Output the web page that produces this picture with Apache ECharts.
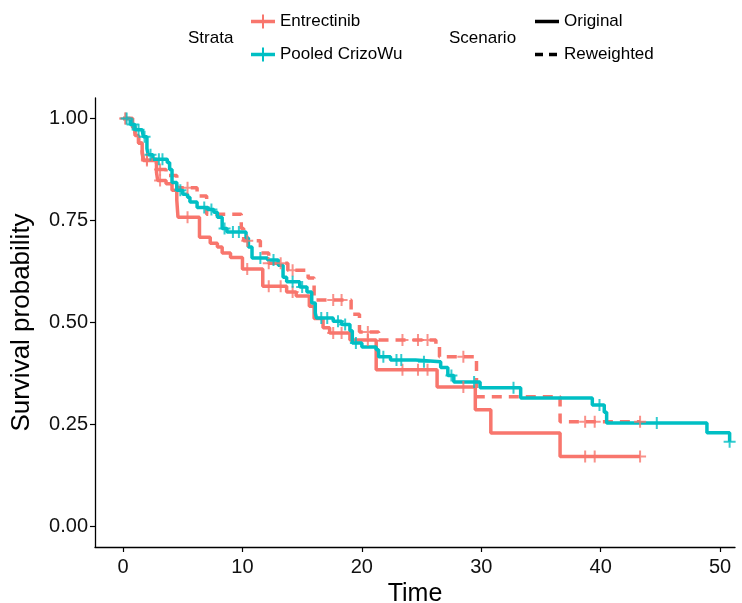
<!DOCTYPE html>
<html>
<head>
<meta charset="utf-8">
<script src="https://cdn.jsdelivr.net/npm/echarts@6/dist/echarts.min.js"></script>
<style>
  html, body { margin: 0; padding: 0; background: #fff; }
  #chart { width: 742px; height: 603px; }
</style>
</head>
<body>
<div id="chart"></div>
<script>
// Kaplan-Meier step estimates: event times and survival after each event
const entTimes = [0, 0.8, 1.0, 1.3, 1.6, 1.7, 2.8, 2.9, 3.6, 4.1, 4.5, 4.6, 6.4, 7.3, 7.9, 8.3, 9.0, 10.0, 11.7, 13.7, 14.5, 15.6, 16.0, 16.75, 17.3, 19.0, 21.2, 26.3, 29.5, 30.8, 36.6];
const entSurv = [1.0, 0.978, 0.958, 0.939, 0.914, 0.897, 0.868, 0.848, 0.840, 0.824, 0.800, 0.758, 0.709, 0.694, 0.685, 0.670, 0.659, 0.631, 0.589, 0.575, 0.565, 0.540, 0.510, 0.487, 0.474, 0.457, 0.384, 0.342, 0.286, 0.229, 0.172];
const entEnd = 43.3;

const entRwTimes = [0, 0.8, 1.0, 1.3, 1.6, 1.7, 2.8, 3.6, 4.5, 6.2, 7.0, 9.9, 10.1, 11.5, 12.2, 13.8, 15.5, 16.0, 19.1, 19.8, 21.4, 26.2, 26.5, 29.6, 36.6];
const entRwSurv = [1.0, 0.98, 0.96, 0.94, 0.92, 0.90, 0.875, 0.86, 0.83, 0.81, 0.765, 0.73, 0.70, 0.67, 0.645, 0.628, 0.609, 0.555, 0.52, 0.477, 0.457, 0.44, 0.416, 0.318, 0.257];
const entRwEnd = 43.3;

const poolTimes = [0, 0.6, 1.0, 1.6, 1.7, 2.0, 2.1, 2.5, 3.7, 3.9, 4.1, 4.5, 5.0, 5.4, 5.6, 6.2, 7.1, 7.6, 7.9, 8.3, 8.7, 10.3, 10.5, 10.8, 12.1, 13.0, 13.4, 13.7, 14.8, 15.4, 15.8, 16.1, 16.2, 17.6, 18.3, 19.0, 19.2, 20.0, 21.2, 21.4, 22.4, 24.5, 26.6, 27.2, 27.7, 29.9, 33.3, 39.3, 40.3, 40.5, 48.9, 50.8];
const poolSurv = [1.0, 0.985, 0.972, 0.968, 0.955, 0.926, 0.911, 0.90, 0.892, 0.875, 0.843, 0.824, 0.814, 0.807, 0.795, 0.782, 0.777, 0.770, 0.758, 0.73, 0.722, 0.707, 0.685, 0.658, 0.653, 0.64, 0.611, 0.60, 0.587, 0.575, 0.548, 0.523, 0.511, 0.503, 0.495, 0.48, 0.45, 0.44, 0.433, 0.416, 0.408, 0.404, 0.39, 0.37, 0.354, 0.34, 0.315, 0.298, 0.28, 0.254, 0.23, 0.208];
const poolEnd = 50.8;

// Censoring times (shared by both Entrectinib scenarios)
const entCensor = [0.2, 2.0, 3.1, 5.4, 10.4, 12.2, 13.2, 14.2, 17.6, 18.3, 20.5, 23.4, 24.7, 25.5, 28.5, 38.7, 39.5, 43.3];
const poolCensor = [0.3, 0.8, 1.3, 1.8, 2.3, 3.0, 3.3, 4.8, 6.8, 7.4, 8.5, 9.2, 9.7, 11.5, 12.6, 14.2, 15.0, 16.6, 17.1, 18.0, 18.6, 19.5, 21.8, 22.9, 23.3, 25.2, 27.5, 29.4, 32.7, 39.9, 44.7, 50.8];

const xTicks = [0, 10, 20, 30, 40, 50];
const yTicks = [0, 0.25, 0.5, 0.75, 1.0];

const RED = '#F8766D';
const TEAL = '#00BFC4';
const FONT = '"Liberation Sans", Arial, Helvetica, sans-serif';

function stepPoints(times, surv, end) {
  const pts = times.map((t, i) => [t, surv[i]]);
  pts.push([end, surv[surv.length - 1]]);
  return pts;
}
function survAt(times, surv, t) {
  let s = surv[0];
  for (let i = 0; i < times.length; i++) { if (times[i] <= t) s = surv[i]; }
  return s;
}
function censorPoints(ct, times, surv) {
  return ct.map(t => [t, survAt(times, surv, t)]);
}

const plusSymbol = 'path://M0,5 L12,5 L12,7 L0,7 Z M5,0 L7,0 L7,12 L5,12 Z';
const keyPlus = 'path://M0,5.2 L24,5.2 L24,8.8 L0,8.8 Z M11,0 L13,0 L13,14 L11,14 Z';
const keySolid = 'path://M0,0 L0.01,0 L0,0.01 Z M0,5.2 L24,5.2 L24,8.8 L0,8.8 Z M24,14 L23.99,14 L24,13.99 Z';
const keyDash = 'path://M0,0 L0.01,0 L0,0.01 Z M0,5.2 L8,5.2 L8,8.8 L0,8.8 Z M14,5.2 L22,5.2 L22,8.8 L14,8.8 Z M24,14 L23.99,14 L24,13.99 Z';

const chart = echarts.init(document.getElementById('chart'), null, { renderer: 'canvas' });

const legendText = { fontFamily: FONT, fontSize: 17, color: '#000' };

chart.setOption({
  animation: false,
  backgroundColor: '#fff',
  grid: { left: 95, right: 7, top: 98, bottom: 56, containLabel: false, outerBoundsMode: 'none' },
  graphic: [
    { type: 'text', left: 188, top: 30, style: { text: 'Strata', font: '17px ' + FONT, fill: '#000' } },
    { type: 'text', left: 449, top: 30, style: { text: 'Scenario', font: '17px ' + FONT, fill: '#000' } }
  ],
  legend: [
    {
      orient: 'vertical', left: 246, top: 8, itemWidth: 24, itemHeight: 14, itemGap: 16,
      textStyle: legendText,
      data: [{ name: 'Entrectinib', icon: keyPlus }, { name: 'Pooled CrizoWu', icon: keyPlus }]
    },
    {
      orient: 'vertical', left: 530, top: 8, itemWidth: 24, itemHeight: 14, itemGap: 16,
      textStyle: legendText,
      data: [{ name: 'Original', icon: keySolid }, { name: 'Reweighted', icon: keyDash }]
    }
  ],
  xAxis: {
    type: 'value', min: -2.35, max: 51.25,
    name: 'Time', nameLocation: 'middle', nameGap: 33,
    nameTextStyle: { fontFamily: FONT, fontSize: 25, color: '#000' },
    axisLine: { onZero: false, lineStyle: { color: '#000', width: 1.3 } },
    axisTick: { show: true, length: 5, lineStyle: { color: '#000', width: 1.2 }, customValues: xTicks },
    axisLabel: { fontFamily: FONT, fontSize: 20, color: '#111', margin: 10, customValues: xTicks },
    splitLine: { show: false }
  },
  yAxis: {
    type: 'value', min: -0.05, max: 1.05,
    name: 'Survival probability', nameLocation: 'middle', nameGap: 60,
    nameTextStyle: { fontFamily: FONT, fontSize: 26, color: '#000' },
    axisLine: { show: true, onZero: false, lineStyle: { color: '#000', width: 1.3 } },
    axisTick: { show: true, length: 5, lineStyle: { color: '#000', width: 1.2 }, customValues: yTicks },
    axisLabel: { fontFamily: FONT, fontSize: 20, color: '#111', margin: 7, customValues: yTicks,
      formatter: v => v.toFixed(2) },
    splitLine: { show: false }
  },
  series: [
    {
      name: 'Entrectinib', type: 'line', step: 'end', showSymbol: false, symbol: 'none',
      data: stepPoints(entTimes, entSurv, entEnd),
      itemStyle: { color: RED }, lineStyle: { color: RED, width: 3.5 }, z: 3
    },
    {
      name: 'Entrectinib reweighted', type: 'line', step: 'end', showSymbol: false, symbol: 'none',
      data: stepPoints(entRwTimes, entRwSurv, entRwEnd),
      itemStyle: { color: RED }, lineStyle: { color: RED, width: 3.5, type: [10, 7] }, z: 3
    },
    {
      name: 'Pooled CrizoWu', type: 'line', step: 'end', showSymbol: false, symbol: 'none',
      data: stepPoints(poolTimes, poolSurv, poolEnd),
      itemStyle: { color: TEAL }, lineStyle: { color: TEAL, width: 3.5 }, z: 4
    },
    {
      name: 'Entrectinib censored', type: 'scatter', symbol: plusSymbol, symbolSize: 12,
      data: censorPoints(entCensor, entTimes, entSurv), itemStyle: { color: RED }, z: 5
    },
    {
      name: 'Entrectinib reweighted censored', type: 'scatter', symbol: plusSymbol, symbolSize: 12,
      data: censorPoints(entCensor, entRwTimes, entRwSurv), itemStyle: { color: RED }, z: 5
    },
    {
      name: 'Pooled CrizoWu censored', type: 'scatter', symbol: plusSymbol, symbolSize: 12,
      data: censorPoints(poolCensor, poolTimes, poolSurv), itemStyle: { color: TEAL }, z: 6
    },
    { name: 'Original', type: 'line', data: [], itemStyle: { color: '#000' }, lineStyle: { color: '#000' } },
    { name: 'Reweighted', type: 'line', data: [], itemStyle: { color: '#000' }, lineStyle: { color: '#000', type: 'dashed' } }
  ]
});
</script>
</body>
</html>
